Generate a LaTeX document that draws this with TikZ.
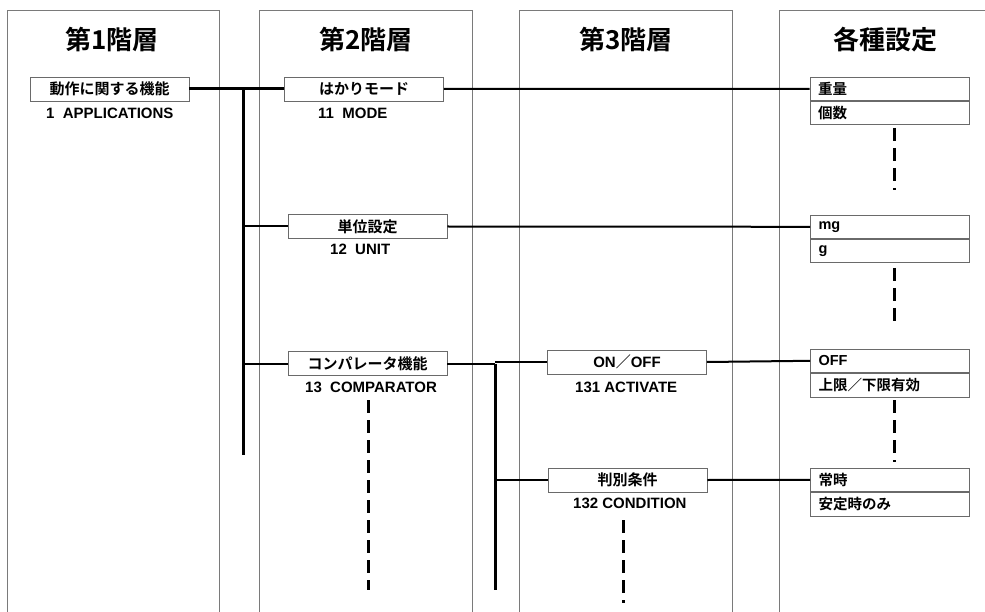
\documentclass[tikz,border=0pt]{standalone}
\usepackage{fontspec}
\setmainfont{Liberation Sans}
\newfontfamily\cjk{Noto Sans CJK JP}[BoldFont={* Bold}]
\newfontfamily\lat{Liberation Sans}
\definecolor{colgray}{HTML}{7A7A7A}
\definecolor{boxgray}{HTML}{6A6A6A}
\begin{document}
\begin{tikzpicture}[x=1pt,y=-1pt,
  every node/.style={font=\bfseries\fontsize{15}{17}\selectfont},
  col/.style={draw=colgray, line width=0.9pt},
  ttl/.style={font=\cjk\bfseries\fontsize{26}{30}\selectfont},
  ibox/.style={draw=boxgray, line width=0.9pt, fill=white, minimum width=159pt, minimum height=24pt, inner sep=0pt, font=\cjk\bfseries\fontsize{15}{17}\selectfont},
  sbox/.style={draw=boxgray, line width=0.9pt, fill=white, minimum width=159pt, minimum height=23.5pt, inner xsep=8pt, inner ysep=0pt, text width=143pt, align=left, font=\cjk\bfseries\fontsize{14.5}{16}\selectfont},
  lbl/.style={anchor=west, inner sep=0pt, font=\bfseries\fontsize{15}{17}\selectfont},
  trunk/.style={line width=3pt},
  link/.style={line width=2pt},
  dsh/.style={line width=3pt, dash pattern=on 13pt off 7pt}
]
\useasboundingbox (0,0) rectangle (985,612);
\begin{scope}
\clip (0,0) rectangle (985,612);
% columns
\draw[col] (7,614) |- (219,10) -- (219,614);
\draw[col] (259,614) |- (472,10) -- (472,614);
\draw[col] (519,614) |- (732,10) -- (732,614);
\draw[col] (779,614) |- (991,10) -- (991,614);
\end{scope}
% titles
\node[ttl] (t1) at (112,40) {第1階層};
\node[ttl] (t2) at (366,40) {第2階層};
\node[ttl] (t3) at (626,40) {第3階層};
\node[ttl] (t4) at (885,40) {各種設定};

% trunks (free ends)
\coordinate (tr1) at (243,455);
\coordinate (tr2) at (495,590);

% level boxes
\node[ibox] (a) at (109.5,89) {動作に関する機能};
\node[ibox] (b) at (364,89) {はかりモード};
\node[ibox] (c) at (367.5,226.5) {単位設定};
\node[ibox] (d) at (367.5,363.5) {コンパレータ機能};
\node[ibox] (e) at (627,362) {{\lat\bfseries ON}／{\lat\bfseries OFF}};
\node[ibox] (f) at (627.5,480) {判別条件};

% labels
\node[lbl] (la) at (46,113) {1\ \ APPLICATIONS};
\node[lbl] (lb) at (318,113) {11\ \ MODE};
\node[lbl] (lc) at (330,249) {12\ \ UNIT};
\node[lbl] (ld) at (305,387) {13\ \ COMPARATOR};
\node[lbl] (le) at (575,387) {131 ACTIVATE};
\node[lbl] (lf) at (573,503) {132 CONDITION};

% settings boxes
\node[sbox, anchor=south] (s1a) at (889.5,101) {重量};
\node[sbox, anchor=north] (s1b) at (889.5,101) {個数};
\node[sbox, anchor=south] (s2a) at (890,239) {\lat\bfseries mg};
\node[sbox, anchor=north] (s2b) at (890,239) {\lat\bfseries g};
\node[sbox, anchor=south] (s3a) at (890,373) {\lat\bfseries OFF};
\node[sbox, anchor=north] (s3b) at (890,373) {上限／下限有効};
\node[sbox, anchor=south] (s4a) at (890,492) {常時};
\node[sbox, anchor=north] (s4b) at (890,492) {安定時のみ};

% connectors
\draw[trunk] (a.east) -- (b.west);
\draw[trunk] (tr1 |- a.east) -- (tr1);
\draw[link] (tr1 |- c.west) -- (c.west);
\draw[link] (tr1 |- d.west) -- (d.west);
\draw[link] (b.east) -- (s1a.west);
\draw[link] (c.east) -- (s2a.west);
\draw[link] (d.east) -- (tr2 |- d.east);
\draw[trunk] (tr2 |- d.east) -- (tr2);
\draw[link] (tr2 |- e.west) -- (e.west);
\draw[link] (tr2 |- f.west) -- (f.west);
\draw[link] (e.east) -- (s3a.west);
\draw[link] (f.east) -- (s4a.west);

% continuation dashes
\coordinate (c1s) at (894,128); \coordinate (c1e) at (894,190);
\coordinate (c2s) at (894,268); \coordinate (c2e) at (894,328);
\coordinate (c3s) at (894,400); \coordinate (c3e) at (894,462);
\coordinate (c4s) at (368,400); \coordinate (c4e) at (368,590);
\coordinate (c5s) at (623,520); \coordinate (c5e) at (623,603);
\draw[dsh] (c1s) -- (c1e);
\draw[dsh] (c2s) -- (c2e);
\draw[dsh] (c3s) -- (c3e);
\draw[dsh] (c4s) -- (c4e);
\draw[dsh] (c5s) -- (c5e);
\end{tikzpicture}
\end{document}
